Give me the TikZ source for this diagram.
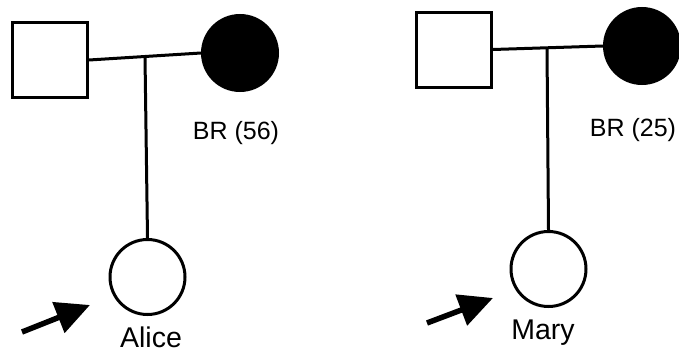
\documentclass[tikz,border=0pt]{standalone}
\usepackage{fontspec}
\setmainfont{Liberation Sans}
\usetikzlibrary{arrows.meta}
\begin{document}
\begin{tikzpicture}[x=1pt,y=-1pt,
  male/.style={draw,line width=3pt,rectangle,minimum size=75pt,inner sep=0pt},
  fem/.style={draw,line width=3pt,circle,minimum size=75pt,inner sep=0pt},
  affected/.style={fem,fill=black},
  link/.style={line width=3pt},
  proband/.style={line width=5.5pt,-{Triangle[length=34pt,width=32pt]}},
  lab/.style={font=\fontsize{25}{28}\selectfont,inner sep=0pt},
  pname/.style={font=\fontsize{28.5}{32}\selectfont,inner sep=0pt}]
\useasboundingbox (0,0) rectangle (679,356);
% left pedigree
\node[male] (f1) at (50,60) {};
\node[affected] (m1) at (240,53) {};
\node[fem] (c1) at (147.5,277) {};
\draw[link] (f1.east) -- (m1.west);
\coordinate (j1) at (145,57);
\draw[link] (j1) -- (c1.north);
\node[lab] (b1) at (236,133) {BR (56)};
\node[pname] (n1) at (151,337) {Alice};
\coordinate (a1s) at (22,332);
\coordinate (a1e) at (90,305);
\draw[proband] (a1s) -- (a1e);
% right pedigree
\node[male] (f2) at (454,49.5) {};
\node[affected] (m2) at (642,46) {};
\node[fem] (c2) at (548.5,269) {};
\draw[link] (f2.east) -- (m2.west);
\coordinate (j2) at (547,48);
\draw[link] (j2) -- (c2.north);
\node[lab] (b2) at (633,130) {BR (25)};
\node[pname] (n2) at (543,333) {Mary};
\coordinate (a2s) at (427,323);
\coordinate (a2e) at (493,298);
\draw[proband] (a2s) -- (a2e);
\end{tikzpicture}
\end{document}
